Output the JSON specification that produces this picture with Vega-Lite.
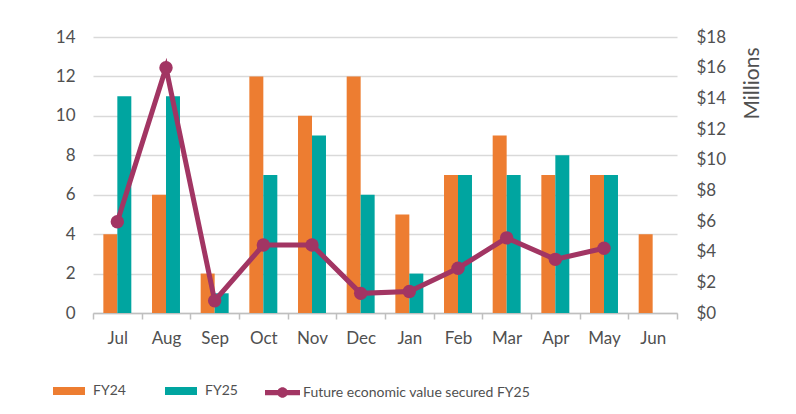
{
  "$schema": "https://vega.github.io/schema/vega-lite/v6.json",
  "width": 584,
  "height": 276,
  "autosize": "none",
  "padding": {"left": 93, "top": 37, "right": 119, "bottom": 101},
  "background": "white",
  "config": {
    "font": "Lato",
    "view": {"stroke": null},
    "axis": {"labelFont": "Lato", "labelColor": "#505050", "labelFontSize": 17, "titleFont": "Lato", "titleColor": "#505050"},
    "legend": {"labelFont": "Lato", "labelColor": "#505050", "labelFontSize": 14, "padding": 0, "labelLimit": 400}
  },
  "datasets": {
    "bars": [
      {"month": "Jul", "series": "FY24", "count": 4},
      {"month": "Jul", "series": "FY25", "count": 11},
      {"month": "Aug", "series": "FY24", "count": 6},
      {"month": "Aug", "series": "FY25", "count": 11},
      {"month": "Sep", "series": "FY24", "count": 2},
      {"month": "Sep", "series": "FY25", "count": 1},
      {"month": "Oct", "series": "FY24", "count": 12},
      {"month": "Oct", "series": "FY25", "count": 7},
      {"month": "Nov", "series": "FY24", "count": 10},
      {"month": "Nov", "series": "FY25", "count": 9},
      {"month": "Dec", "series": "FY24", "count": 12},
      {"month": "Dec", "series": "FY25", "count": 6},
      {"month": "Jan", "series": "FY24", "count": 5},
      {"month": "Jan", "series": "FY25", "count": 2},
      {"month": "Feb", "series": "FY24", "count": 7},
      {"month": "Feb", "series": "FY25", "count": 7},
      {"month": "Mar", "series": "FY24", "count": 9},
      {"month": "Mar", "series": "FY25", "count": 7},
      {"month": "Apr", "series": "FY24", "count": 7},
      {"month": "Apr", "series": "FY25", "count": 8},
      {"month": "May", "series": "FY24", "count": 7},
      {"month": "May", "series": "FY25", "count": 7},
      {"month": "Jun", "series": "FY24", "count": 4}
    ],
    "line": [
      {"month": "Jul", "series": "Future economic value secured FY25", "value": 5.95},
      {"month": "Aug", "series": "Future economic value secured FY25", "value": 16.0},
      {"month": "Sep", "series": "Future economic value secured FY25", "value": 0.8},
      {"month": "Oct", "series": "Future economic value secured FY25", "value": 4.43},
      {"month": "Nov", "series": "Future economic value secured FY25", "value": 4.43},
      {"month": "Dec", "series": "Future economic value secured FY25", "value": 1.28},
      {"month": "Jan", "series": "Future economic value secured FY25", "value": 1.4},
      {"month": "Feb", "series": "Future economic value secured FY25", "value": 2.92},
      {"month": "Mar", "series": "Future economic value secured FY25", "value": 4.9},
      {"month": "Apr", "series": "Future economic value secured FY25", "value": 3.5},
      {"month": "May", "series": "Future economic value secured FY25", "value": 4.22}
    ]
  },
  "layer": [
    {
      "data": {"name": "bars"},
      "mark": {"type": "bar"},
      "encoding": {
        "x": {
          "field": "month", "type": "nominal",
          "sort": ["Jul","Aug","Sep","Oct","Nov","Dec","Jan","Feb","Mar","Apr","May","Jun"],
          "scale": {"paddingInner": 0, "paddingOuter": 0},
          "axis": {"title": null, "labelAngle": 0, "domain": true, "domainColor": "#BFBFBF", "domainWidth": 1.5, "ticks": true, "tickBand": "extent", "tickColor": "#BFBFBF", "tickWidth": 1.5, "tickSize": 6, "labelPadding": 11, "grid": false}
        },
        "xOffset": {"field": "series", "type": "nominal", "scale": {"paddingOuter": 0.74, "paddingInner": 0}},
        "y": {
          "field": "count", "type": "quantitative",
          "scale": {"domain": [0, 14]},
          "axis": {"orient": "left", "title": null, "values": [0,2,4,6,8,10,12,14], "domain": false, "ticks": false, "labelPadding": 18, "grid": true, "gridColor": "#D9D9D9", "gridWidth": 1.5}
        },
        "color": {
          "field": "series", "type": "nominal",
          "scale": {"domain": ["FY24", "FY25"], "range": ["#ED7D31", "#00A5A0"]},
          "legend": {"title": null, "orient": "none", "legendX": -40, "legendY": 338, "direction": "horizontal", "columns": 2, "symbolType": "M-1,-0.25H1V0.25H-1Z", "symbolSize": 1024, "symbolStrokeWidth": 0, "labelOffset": 8, "columnPadding": 39}
        }
      }
    },
    {
      "data": {"name": "line"},
      "encoding": {
        "x": {"field": "month", "type": "nominal", "sort": ["Jul","Aug","Sep","Oct","Nov","Dec","Jan","Feb","Mar","Apr","May","Jun"]},
        "y": {
          "field": "value", "type": "quantitative",
          "scale": {"domain": [0, 18]},
          "axis": {"orient": "right", "title": "Millions", "titleFontSize": 21, "titleFontWeight": "normal", "titleAngle": 270, "titleAnchor": "end", "titleAlign": "right", "titleBaseline": "top", "titlePadding": 16, "titleY": 10, "values": [0,2,4,6,8,10,12,14,16,18], "labelExpr": "'$' + datum.value", "domain": false, "ticks": false, "labelPadding": 19, "grid": false}
        }
      },
      "layer": [
        {
          "mark": {"type": "line", "strokeWidth": 5},
          "encoding": {
            "stroke": {
              "field": "series", "type": "nominal",
              "scale": {"range": ["#A23563"]},
              "legend": {"title": null, "orient": "none", "legendX": 172, "legendY": 338, "symbolType": "M-1,-0.15H1V0.15H-1Z M-0.3,0 A0.3,0.3 0 1,1 0.3,0 A0.3,0.3 0 1,1 -0.3,0Z", "symbolSize": 1225, "symbolFillColor": "#A23563", "symbolStrokeWidth": 0, "labelOffset": 3}
            }
          }
        },
        {
          "mark": {"type": "circle", "size": 180, "color": "#A23563", "opacity": 1},
          "encoding": {}
        }
      ]
    }
  ],
  "resolve": {"scale": {"y": "independent"}}
}
